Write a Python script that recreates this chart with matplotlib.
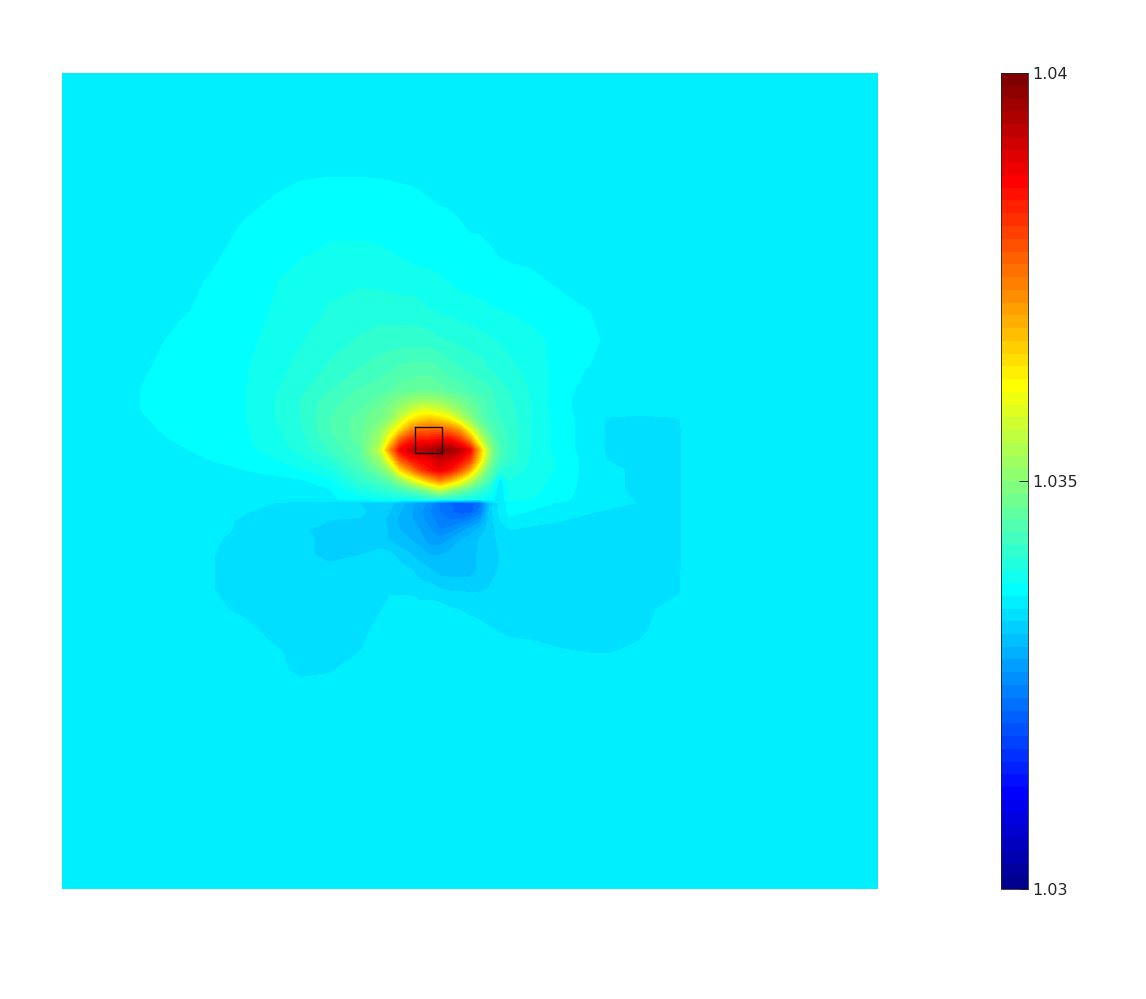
import numpy as np
import matplotlib
matplotlib.use("Agg")
import matplotlib.pyplot as plt
from matplotlib.colors import ListedColormap, Normalize
from matplotlib.cm import ScalarMappable

# grid nodes of the field (uneven, finer around the hot spot)
x_nodes = [62, 130, 150, 180, 210, 240, 270, 300, 330, 360,
           380, 390, 400, 410, 420, 430, 440, 450, 460, 470, 480, 490, 500, 510,
           530, 560, 590, 610, 640, 670, 680, 682, 878]
y_nodes = [73, 170, 195, 220, 250, 280, 310, 340, 370, 390, 400, 410, 420, 430, 440, 450,
           460, 470, 480, 490, 499, 503, 512, 520, 530, 540, 555, 570, 590, 610, 630, 650,
           670, 690, 889]

# field, in colour steps of the 64 step scale
flat = [23] * 33
level_rows = [
    flat,
    [23,23,23,23,23,23,23,23.1,23.3,23.3, 23.2,23.1,23,23,23,23,23,23,23,23,23,23,23,23, 23,23,23,23,23,23,23,23,23],
    [23,23,23,23,23,23,23.4,24,24,24, 24,24,23.9,23.8,23.6,23.4,23.1,23,23,23,23,23,23,23, 23,23,23,23,23,23,23,23,23],
    [23,23,23,23,23,23.4,24,24,24,24, 24,24,24,24,24,24,24,23.8,23.5,23.1,23,23,23,23, 23,23,23,23,23,23,23,23,23],
    [23,23,23,23,23,24,24,24.2,24.7,24.7, 24.6,24.5,24.3,24.1,24,24,24,24,24,24,24,23.6,23.3,23.1, 23,23,23,23,23,23,23,23,23],
    [23,23,23,23,23.6,24,24.3,25,25.2,25.3, 25.2,25.1,25,25,24.9,24.8,24.6,24.4,24.2,24,24,24,24,24, 23.8,23.2,23,23,23,23,23,23,23],
    [23,23,23,23.2,24,24,24.5,25,25.6,26, 26,26,26,26,25.8,25.5,25.3,25.2,25,25,24.8,24.6,24.5,24.4, 24,24,23.45,23,23,23,23,23,23],
    [23,23,23,24,24,24,24.8,25.4,26,26.6, 27,27,27,27,27,27,26.6,26.4,26.2,26,25.8,25.6,25.4,25.2, 25,24,24,23,23,23,23,23,23],
    [23,23,23.5,24,24,24.3,25,25.8,26.7,27.6, 28,28.4,28.8,29,29,29,28.6,28,27.6,27.2,27,26.5,26,25.8, 25.2,24,23.4,23,23,23,23,23,23],
    [23,23,24,24,24,24.3,25.2,26.2,27.4,28.6, 29,29.4,30,30,30.5,30.5,30,29.5,29,28.5,28,27.6,27,26.4, 25.4,24,23,23,23,23,23,23,23],
    [23,23,24,24,24,24.3,25.3,26.5,28,29, 30,31,32,33,33.5,33.5,33,32,31,30,29,27.8,27.2,26.6, 25.5,23.8,23,23,23,23,23,23,23],
    [23,23,23.9,24,24,24.3,25.3,26.5,28.3,29.5, 31,32,34,36,38,38,37,35,33,31,29.5,28,27.2,26.8, 25.6,23.8,23,23,23,23,23,23,23],
    [23,23,23.5,24,24,24.3,25.3,26.4,28.5,30, 31.5,33,37,41,43,44,43,41,37,33,30,28.5,27.6,27, 25.6,24,23,22.3,22,22.3,22.4,23,23],
    [23,23,23.3,24,24,24.3,25,26.2,28.5,30, 33,37,42,47,50,50,50,49,46,39,33,29.5,27.8,27.2, 25.6,24,23,22.3,22,22,22,23,23],
    [23,23,23,23.7,24,24.2,25,26,28,30, 34,41,50,54,55,55,56,56,53,47,37,31,28,27.2, 25.6,24,23,22.3,22,22,22,23,23],
    [23,23,23,23.3,24,24.1,24.8,25.7,27.5,29.5, 36,47,56,59,60,61,63,62,60,56,44,33,28.6,27.2, 25.5,24,23,22.3,22,22,22,23,23],
    [23,23,23,23,23.5,24,24.3,25.2,26.5,29, 33.5,40,50,54,56,57,59,58,56,52,42,32,28,27, 25.4,24.3,23,22.4,22,22,22,23,23],
    [23,23,23,23,23,23.4,24,24.4,25.3,28, 31,34,42,47,52,55,57,55,51,45,36,30,26.5,26, 25.3,24.3,23,23,22,22,22,23,23],
    [23,23,23,23,23,23,23,23.4,24.3,27, 28.5,30,33,37,41,45,48,45,41,36,31.5,28,23,25.5, 25,24.2,23,23,22,22,22,23,23],
    [23,23,23,23,23,23,23,23,23.4,25.5, 26.5,27,28,29,30.5,33,36,33,31,29,27,25.5,22.5,25, 24.8,24,23,23,22,22,22,23,23],
    [23,23,23,23,23,23,23,23,23.3,24, 24.5,25,25,25,25.5,26,26,26,25.5,25,24.5,24,22.6,24.8, 24.5,23.8,23,23,22.3,22,22,23,23],
    [23,23,23,23,23,23,22.6,22,22,21.5, 21,20.8,20,19,18,17,15.5,14.5,14,14,15,21,22.6,24, 24,23.4,23,23,22.4,22,22,23,23],
    [23,23,23,23,23,22.7,22,22,21.7,21.7, 21,20.5,19.5,18.6,17.8,16.5,15.5,14.8,14,14,16,21,22.8,23.8, 23.4,23,22.6,22.2,22,22,22,23,23],
    [23,23,23,23,23,22.4,22,22,21.5,21.4, 21,20,19.3,18.7,18,17,16,15.5,15.7,16.5,18,21,22.5,23.2, 23,22.6,22,22,22,22,22,23,23],
    [23,23,23,23,23,22.3,22,21.7,21,21, 21,20.3,19.5,19,18.5,17.5,16.5,17,18,19,20,21,22,22.5, 22.2,22,22,22,22,22,22,23,23],
    [23,23,23,23,22.8,22,22,22,21,21, 20.8,20.4,20,19.6,19,18,18,18.5,19.5,20,20.6,21,21.8,22, 22,22,22,22,22,22,22,23,23],
    [23,23,23,23,22.6,22,22,22,21,21.5, 22,21.8,21,20.6,20,19.5,19.5,20,20,20.3,20.6,21,21.5,22, 22,22,22,22,22,22,22,23,23],
    [23,23,23,23,22.6,22,22,22,22,22, 22,22,22,21.6,21,20.6,20,20,20,20,20.7,21,21.6,22, 22,22,22,22,22,22,22,23,23],
    [23,23,23,23,22.6,22,22,22,22,22, 22,22.3,22.3,22.3,22,22,21.6,21.4,21.4,21.4,21.4,21.6,22,22, 22,22,22,22,22,22,22.4,23,23],
    [23,23,23,23,23,22.2,22,22,22,22, 22.4,23,23,23,23,23,23,22.7,22.5,22.3,22,22,22,22, 22,22,22,22,22,23,23,23,23],
    [23,23,23,23,23,23.3,22,22,22,22, 23,23,23,23,23,23,23,23,23,23,23,22.6,22.4,22.2, 22,22,22,22,22.3,23,23,23,23],
    [23,23,23,23,23,23,22.8,22,22,22.45, 23,23,23,23,23,23,23,23,23,23,23,23,23,23, 23,22.55,22.4,22.4,22.7,23,23,23,23],
    [23,23,23,23,23,23,23,22.2,22.4,23, 23,23,23,23,23,23,23,23,23,23,23,23,23,23, 23,23,23,23,23,23,23,23,23],
    flat,
    flat,
]

value_min = 1.03
value_max = 1.04
n_steps = 64
colorbar_ticks = [1.03, 1.035, 1.04]
colorbar_labels = ["1.03", "1.035", "1.04"]

# small square drawn on top of the hot spot
box_x = [415.3, 442.3, 442.3, 415.3, 415.3]
box_y = [426.8, 426.8, 453.3, 453.3, 426.8]

# 64 step jet scale
k = np.arange(1, n_steps + 1)
red = np.interp(k, [24, 40, 56, 64], [0, 1, 1, 0.5])
green = np.interp(k, [8, 24, 40, 56], [0, 1, 1, 0])
blue = np.interp(k, [0, 8, 24, 40], [0.5, 1, 1, 0])
jet64 = ListedColormap(np.column_stack([red, green, blue]))
norm = Normalize(value_min, value_max)

levels = np.array(level_rows, dtype=float)
field = value_min + (levels - 0.5) / n_steps * (value_max - value_min)

W, H = 1146, 999
fig = plt.figure(figsize=(W / 100, H / 100), dpi=100, facecolor="white")

ax = fig.add_axes([62 / W, (H - 889) / H, 816 / W, 816 / H])
ax.contourf(x_nodes, y_nodes, field, levels=np.linspace(value_min, value_max, n_steps + 1),
            cmap=jet64, norm=norm)
ax.plot(box_x, box_y, color="black", lw=0.9)
ax.set_xlim(62, 878)
ax.set_ylim(889, 73)
ax.axis("off")

cax = fig.add_axes([1001 / W, (H - 889) / H, 27 / W, 816 / H])
cb = fig.colorbar(ScalarMappable(norm=norm, cmap=jet64), cax=cax)
cb.set_ticks(colorbar_ticks)
cb.set_ticklabels(colorbar_labels)
cb.ax.tick_params(direction="in", length=6.5, width=0.7, pad=3, labelsize=11.5,
                  colors="#262626")
cb.outline.set_linewidth(0.6)
cb.outline.set_edgecolor("#222222")

fig.savefig("out.png", dpi=100)
